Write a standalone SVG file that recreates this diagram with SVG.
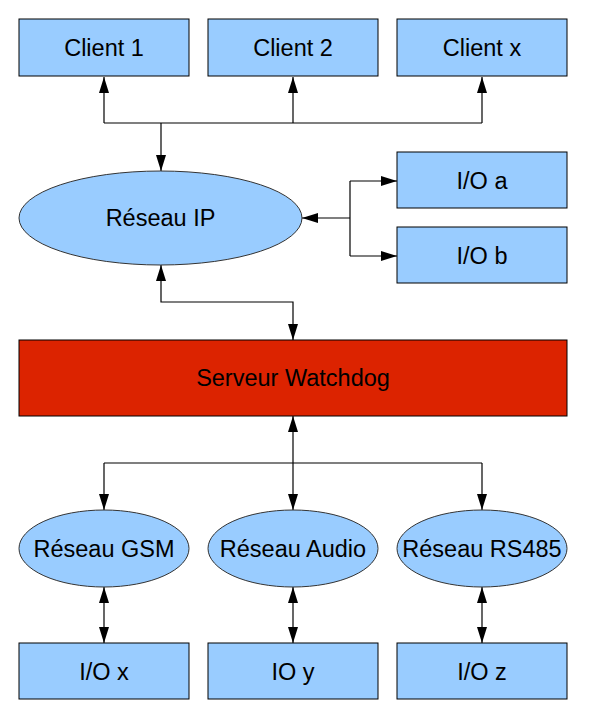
<svg xmlns="http://www.w3.org/2000/svg" width="605" height="718" viewBox="0 0 605 718">
<defs>
<style>
.box{fill:#99ccff;stroke:#000;stroke-width:1}
.srv{fill:#dc2300;stroke:#000;stroke-width:1}
.ell{fill:#99ccff;stroke:#333;stroke-width:1}
.t{font-family:"Liberation Sans",Arial,sans-serif;font-size:23.5px;fill:#000;text-anchor:middle}
.c{fill:none;stroke:#000;stroke-width:1.2}
.a{marker-end:url(#ah)}
.b{marker-start:url(#ah);marker-end:url(#ah)}
</style>
<marker id="ah" markerUnits="userSpaceOnUse" markerWidth="16" markerHeight="10" refX="16" refY="5" orient="auto-start-reverse" viewBox="0 0 16 10">
<path d="M0,0 L16,5 L0,10 z" fill="#000"/>
</marker>
</defs>
<rect width="605" height="718" fill="#fff"/>
<g id="connectors">
<path class="c" d="M104,123 H482"/>
<path class="c a" d="M104,123 V77"/>
<path class="c a" d="M293,123 V77"/>
<path class="c a" d="M482,123 V77"/>
<path class="c a" d="M161,123 V171"/>
<path class="c a" d="M350,218 H302"/>
<path class="c" d="M350,181 V256"/>
<path class="c a" d="M350,181 H397"/>
<path class="c a" d="M350,256 H397"/>
<path class="c b" d="M161,265 V302 H293 V340"/>
<path class="c b" d="M293,416 V510"/>
<path class="c" d="M104,463 H482"/>
<path class="c a" d="M104,463 V510"/>
<path class="c a" d="M482,463 V510"/>
<path class="c b" d="M104,587 V643"/>
<path class="c b" d="M293,587 V643"/>
<path class="c b" d="M482,587 V643"/>
</g>
<g id="client1"><rect class="box" x="19" y="19" width="170" height="57"/><text class="t" x="104" y="56">Client 1</text></g>
<g id="client2"><rect class="box" x="208" y="19" width="170" height="57"/><text class="t" x="293" y="56">Client 2</text></g>
<g id="clientx"><rect class="box" x="397" y="19" width="170" height="57"/><text class="t" x="482" y="56">Client x</text></g>
<g id="reseau-ip"><ellipse class="ell" cx="160.5" cy="218" rx="141.5" ry="47"/><text class="t" x="160.5" y="226">Réseau IP</text></g>
<g id="io-a"><rect class="box" x="397" y="152" width="170" height="56"/><text class="t" x="482" y="189">I/O a</text></g>
<g id="io-b"><rect class="box" x="397" y="227" width="170" height="56"/><text class="t" x="482" y="264">I/O b</text></g>
<g id="serveur"><rect class="srv" x="19" y="340" width="548" height="76"/><text class="t" x="293" y="386">Serveur Watchdog</text></g>
<g id="reseau-gsm"><ellipse class="ell" cx="104" cy="548.5" rx="85" ry="38.5"/><text class="t" x="104" y="557">Réseau GSM</text></g>
<g id="reseau-audio"><ellipse class="ell" cx="293" cy="548.5" rx="85" ry="38.5"/><text class="t" x="293" y="557">Réseau Audio</text></g>
<g id="reseau-rs485"><ellipse class="ell" cx="482" cy="548.5" rx="85" ry="38.5"/><text class="t" x="482" y="557">Réseau RS485</text></g>
<g id="io-x"><rect class="box" x="19" y="643" width="170" height="56"/><text class="t" x="104" y="680">I/O x</text></g>
<g id="io-y"><rect class="box" x="208" y="643" width="170" height="56"/><text class="t" x="293" y="680">IO y</text></g>
<g id="io-z"><rect class="box" x="397" y="643" width="170" height="56"/><text class="t" x="482" y="680">I/O z</text></g>
</svg>
